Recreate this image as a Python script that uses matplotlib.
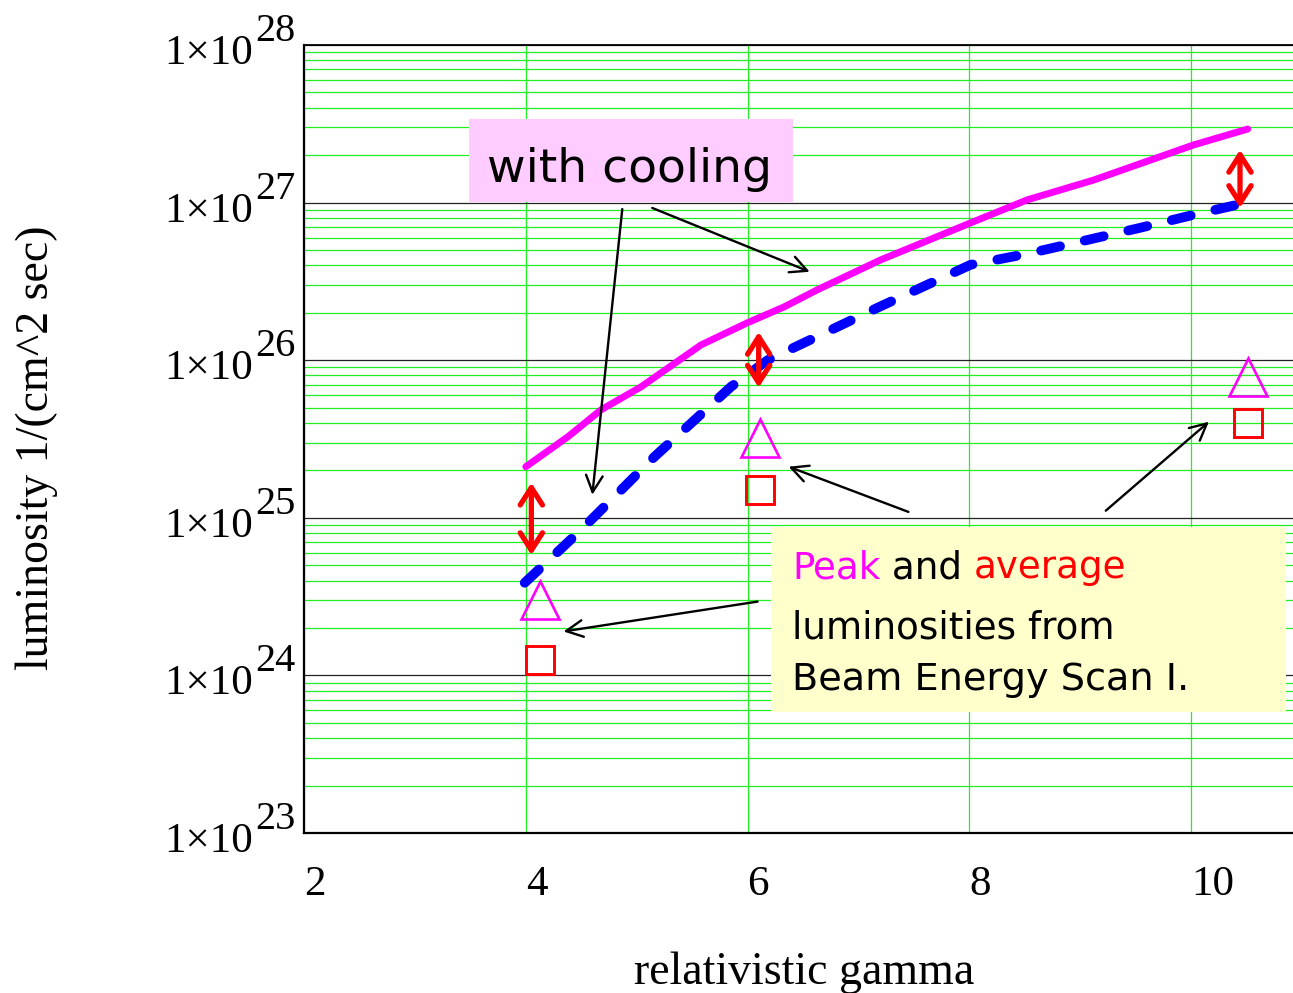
import matplotlib.pyplot as plt
from matplotlib import transforms
from matplotlib.patches import Rectangle
from matplotlib.ticker import LogLocator, NullFormatter

# peak luminosity with cooling (solid magenta)
gamma_peak = [4.0, 4.38, 4.68, 5.04, 5.58, 6.0, 6.33, 6.63, 7.2, 8.01, 8.52, 9.12, 10.02, 10.51]
lum_peak = [2.11e25, 3.27e25, 4.85e25, 6.78e25, 1.25e26, 1.73e26, 2.18e26, 2.8e26,
            4.33e26, 7.43e26, 1.04e27, 1.39e27, 2.32e27, 2.93e27]

# average luminosity with cooling (dashed blue)
gamma_avg = [3.99, 4.5, 5.16, 5.85, 6.18, 7.17, 8.01, 8.52, 9.54, 10.02, 10.5]
lum_avg = [3.87e24, 8.4e24, 2.44e25, 6.78e25, 1.0e26, 2.15e26, 4.03e26, 4.73e26,
           6.92e26, 8.36e26, 1.0e27]

# Beam Energy Scan I
bes_gamma = [4.125, 6.11, 10.51]
bes_peak = [3.03e24, 3.22e25, 7.85e25]
bes_avg = [1.26e24, 1.5e25, 3.97e25]

# red double arrows (peak/average ratio)
gap_gamma = [4.05, 6.1, 10.44]
gap_top = [1.67e25, 1.51e26, 2.16e27]
gap_bottom = [5.8e24, 6.7e25, 9.25e26]

# black pointer arrows: (tail, head) in data units
pointers = [
    ((5.14, 9.25e26), (6.56, 3.64e26)),
    ((4.87, 9.1e26), (4.60, 1.4e25)),
    ((7.45, 1.09e25), (6.37, 2.11e25)),
    ((9.23, 1.11e25), (10.16, 4.07e25)),
    ((6.09, 2.94e24), (4.34, 1.9e24)),
]

x_ticks = [2, 4, 6, 8, 10]
y_exponents = [23, 24, 25, 26, 27, 28]

serif = "Liberation Serif"
sans = "DejaVu Sans"

fig = plt.figure(figsize=(12.93, 9.93), dpi=100)
ax = fig.add_axes([304 / 1293, 1 - 833 / 993, 989 / 1293, 788 / 993])
ax.set_yscale("log")
ax.set_xlim(2.015, 10.918)
ax.set_ylim(1e23, 1e28)

# grid
ax.set_axisbelow(True)
ax.set_xticks(x_ticks)
ax.yaxis.set_major_locator(LogLocator(base=10, numticks=10))
ax.yaxis.set_minor_locator(LogLocator(base=10, subs=range(2, 10), numticks=20))
ax.grid(which="minor", axis="y", color="#22ee22", lw=0.9)
ax.grid(which="major", axis="y", color="#222222", lw=0.9)
ax.grid(which="major", axis="x", color="#22ee22", lw=0.9)
ax.tick_params(which="both", length=0, labelbottom=False, labelleft=False)
ax.yaxis.set_minor_formatter(NullFormatter())

for s in ["left", "bottom"]:
    ax.spines[s].set_linewidth(1.6)
ax.spines["top"].set_linewidth(1.3)
ax.spines["right"].set_visible(False)

# curves
ax.plot(gamma_peak, lum_peak, color="#ff00ff", lw=5.0, solid_capstyle="round",
        solid_joinstyle="round", zorder=3)
ax.plot(gamma_avg, lum_avg, color="#0000ff", lw=7.0, ls=(0, (2.0, 2.6)),
        dash_capstyle="round", zorder=3)

# BES I points
ax.plot(bes_gamma, bes_peak, ls="none", marker="^", ms=27, mfc="none",
        mec="#ff00ff", mew=1.9, zorder=4)
ax.plot(bes_gamma, bes_avg, ls="none", marker="s", ms=19.5, mfc="none",
        mec="#ff0000", mew=2.1, zorder=4)

# red double arrows
for g, lo, hi in zip(gap_gamma, gap_bottom, gap_top):
    ax.annotate("", xy=(g, hi), xytext=(g, lo),
                arrowprops=dict(arrowstyle="<->,head_length=1.25,head_width=0.8",
                                color="#ff0000", lw=3.8, shrinkA=0, shrinkB=0,
                                mutation_scale=10), zorder=5)

# black pointers
for tail, head in pointers:
    ax.annotate("", xy=head, xytext=tail,
                arrowprops=dict(arrowstyle="->,head_length=1.2,head_width=0.6",
                                color="black", lw=1.7, shrinkA=0, shrinkB=0,
                                mutation_scale=10), zorder=5)

# "with cooling" box
ax.add_patch(Rectangle((0.1668, 0.8008), 0.3276, 0.1053, transform=ax.transAxes,
                       facecolor="#ffccff", edgecolor="none", zorder=1))
ax.text(0.3296, 0.8261, "with cooling", transform=ax.transAxes, ha="center",
        va="baseline", fontsize=34, family=sans, zorder=6)

# BES note box
ax.add_patch(Rectangle((0.4722, 0.1536), 0.5208, 0.2347, transform=ax.transAxes,
                       facecolor="#ffffcc", edgecolor="none", zorder=1))
fs_note = 26.8
t1 = ax.text(0.4934, 0.3236, "Peak", transform=ax.transAxes, color="#ff00ff",
             va="baseline", fontsize=fs_note, family=sans, zorder=6)
t2 = ax.annotate(" and ", xy=(1, 0), xycoords=t1, va="bottom", fontsize=fs_note,
                 family=sans, color="black", zorder=6)
ax.annotate("average", xy=(1, 0), xycoords=t2, va="bottom", fontsize=fs_note,
            family=sans, color="#ff0000", zorder=6)
ax.text(0.4934, 0.2462, "luminosities from", transform=ax.transAxes,
        va="baseline", fontsize=fs_note, family=sans, zorder=6)
ax.text(0.4934, 0.1815, "Beam Energy Scan I.", transform=ax.transAxes,
        va="baseline", fontsize=27.5, family=sans, zorder=6)

# tick labels
xtrans = transforms.blended_transform_factory(ax.transData, ax.transAxes)
for xt in x_ticks:
    ax.text(xt, 0, str(xt), ha="left", va="baseline", fontsize=31, family=serif,
            transform=transforms.offset_copy(xtrans, fig=fig, x=0, y=-62, units="dots"))

ytrans = transforms.blended_transform_factory(ax.transAxes, ax.transData)
for e in y_exponents:
    ax.text(0, 10.0 ** e, "1\u00d710", ha="right", va="baseline", fontsize=31,
            family=serif,
            transform=transforms.offset_copy(ytrans, fig=fig, x=-51, y=-19, units="dots"))
    ax.text(0, 10.0 ** e, str(e), ha="left", va="baseline", fontsize=29,
            family=serif,
            transform=transforms.offset_copy(ytrans, fig=fig, x=-49, y=4, units="dots"))

# axis titles
fig.text(804 / 1293, 1 - 984 / 993, "relativistic gamma", ha="center", va="baseline",
         fontsize=33, family=serif)
fig.text(37 / 1293, 1 - 448 / 993, "luminosity 1/(cm^2 sec)", rotation=90,
         ha="center", va="center", fontsize=33, family=serif)

fig.savefig("out.png", dpi=100)
